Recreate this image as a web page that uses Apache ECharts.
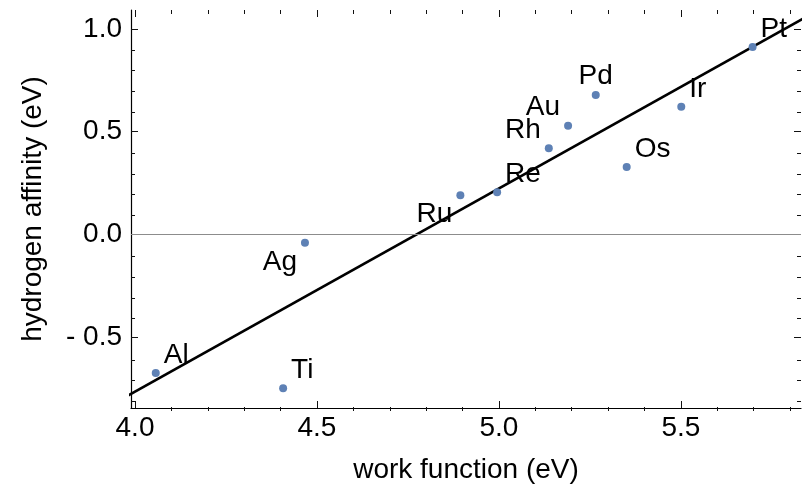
<!DOCTYPE html>
<html>
<head>
<meta charset="utf-8">
<script src="https://cdn.jsdelivr.net/npm/echarts@6/dist/echarts.min.js"></script>
<style>
  html, body { margin: 0; padding: 0; background: #fff; }
  #chart { width: 802px; height: 489px; }
</style>
</head>
<body>
<div id="chart"></div>
<script>
// Metals: work function vs. hydrogen affinity
const metals = ['Al', 'Ti', 'Ag', 'Ru', 'Re', 'Rh', 'Au', 'Pd', 'Os', 'Ir', 'Pt'];
const workFunction = [4.057, 4.407, 4.467, 4.894, 4.995, 5.137, 5.190, 5.266, 5.351, 5.501, 5.697];
const hydrogenAffinity = [-0.677, -0.751, -0.042, 0.190, 0.205, 0.419, 0.529, 0.679, 0.328, 0.621, 0.913];

// Linear fit, given by its two end points
const fitX = [3.98, 5.84];
const fitY = [-0.787, 1.055];

// Axis ticks
const xMajorTicks = [4.0, 4.5, 5.0, 5.5];
const xMinorTicks = [4.1, 4.2, 4.3, 4.4, 4.6, 4.7, 4.8, 4.9, 5.1, 5.2, 5.3, 5.4, 5.6, 5.7, 5.8];
const yMajorTicks = [-0.5, 0.0, 0.5, 1.0];
const yMinorTicks = [-0.8, -0.7, -0.6, -0.4, -0.3, -0.2, -0.1, 0.1, 0.2, 0.3, 0.4, 0.6, 0.7, 0.8, 0.9];

// Where each element label sits relative to its point
const labelSide = {
  Al: 'upperRight', Ti: 'upperRight', Ag: 'lowerLeft', Ru: 'lowerLeft', Re: 'upperRight',
  Rh: 'upperLeft', Au: 'upperLeft', Pd: 'above', Os: 'upperRight', Ir: 'upperRight', Pt: 'upperRight'
};
const placements = {
  upperRight: { align: 'left', offset: [8, -18] },
  upperLeft: { align: 'right', offset: [-8, -18] },
  lowerLeft: { align: 'right', offset: [-8, 19] },
  above: { align: 'center', offset: [0, -19] }
};

const FONT = "'Liberation Sans', Arial, Helvetica, sans-serif";
const X_MIN = 3.989, X_MAX = 5.83;
const Y_MIN = -0.847, Y_MAX = 1.093;
const gridBox = { left: 131, right: 1, top: 10, bottom: 78 };

function fmt(v) {
  return v < 0 ? '- ' + Math.abs(v).toFixed(1) : v.toFixed(1);
}

function tickAxis(kind, gridIndex, position, ticks, len, extra) {
  return Object.assign({
    type: 'value',
    gridIndex: gridIndex,
    position: position,
    min: kind === 'x' ? X_MIN : Y_MIN,
    max: kind === 'x' ? X_MAX : Y_MAX,
    axisLine: { show: false, onZero: false },
    axisTick: { show: true, inside: true, length: len, customValues: ticks,
                lineStyle: { color: '#111', width: 1 } },
    axisLabel: { show: false },
    splitLine: { show: false }
  }, extra || {});
}

const points = metals.map((m, i) => {
  const p = placements[labelSide[m]];
  return {
    name: m,
    value: [workFunction[i], hydrogenAffinity[i]],
    label: { align: p.align, offset: p.offset }
  };
});

const chart = echarts.init(document.getElementById('chart'), null, { renderer: 'canvas' });

chart.setOption({
  animation: false,
  backgroundColor: '#fff',
  grid: [
    Object.assign({}, gridBox),
    Object.assign({}, gridBox)
  ],
  xAxis: [
    tickAxis('x', 0, 'bottom', xMajorTicks, 7, {
      axisLine: { show: true, onZero: false, lineStyle: { color: '#000', width: 1.2 } },
      axisLabel: { show: true, customValues: xMajorTicks, formatter: fmt, fontSize: 28,
                   color: '#000', fontFamily: FONT, margin: 6 },
      name: 'work function (eV)',
      nameLocation: 'middle',
      nameGap: 48,
      nameTextStyle: { fontSize: 28, color: '#000', fontFamily: FONT }
    }),
    tickAxis('x', 0, 'top', xMajorTicks, 7),
    tickAxis('x', 1, 'bottom', xMinorTicks, 4),
    tickAxis('x', 1, 'top', xMinorTicks, 4)
  ],
  yAxis: [
    tickAxis('y', 0, 'left', yMajorTicks, 7, {
      axisLine: { show: true, onZero: false, lineStyle: { color: '#000', width: 1.2 } },
      axisLabel: { show: true, customValues: yMajorTicks, formatter: fmt, fontSize: 28,
                   color: '#000', fontFamily: FONT, margin: 9 },
      name: 'hydrogen affinity (eV)',
      nameLocation: 'middle',
      nameGap: 84,
      nameTextStyle: { fontSize: 28, color: '#000', fontFamily: FONT }
    }),
    tickAxis('y', 0, 'right', yMajorTicks, 7),
    tickAxis('y', 1, 'left', yMinorTicks, 4),
    tickAxis('y', 1, 'right', yMinorTicks, 4)
  ],
  series: [
    {
      type: 'line',
      xAxisIndex: 0,
      yAxisIndex: 0,
      data: fitX.map((x, i) => [x, fitY[i]]),
      symbol: 'none',
      clip: true,
      z: 2,
      lineStyle: { color: '#000', width: 2.8 },
      markLine: {
        silent: true,
        symbol: 'none',
        label: { show: false },
        lineStyle: { color: '#8c8c8c', width: 1, type: 'solid' },
        data: [{ yAxis: 0 }]
      }
    },
    {
      type: 'scatter',
      xAxisIndex: 0,
      yAxisIndex: 0,
      symbol: 'circle',
      symbolSize: 8,
      z: 3,
      itemStyle: { color: '#5E81B5', opacity: 1 },
      label: {
        show: true,
        position: 'inside',
        formatter: '{b}',
        verticalAlign: 'middle',
        fontSize: 28,
        color: '#000',
        opacity: 1,
        textBorderWidth: 0,
        textBorderColor: 'transparent',
        fontFamily: FONT
      },
      data: points
    }
  ]
});
</script>
</body>
</html>
